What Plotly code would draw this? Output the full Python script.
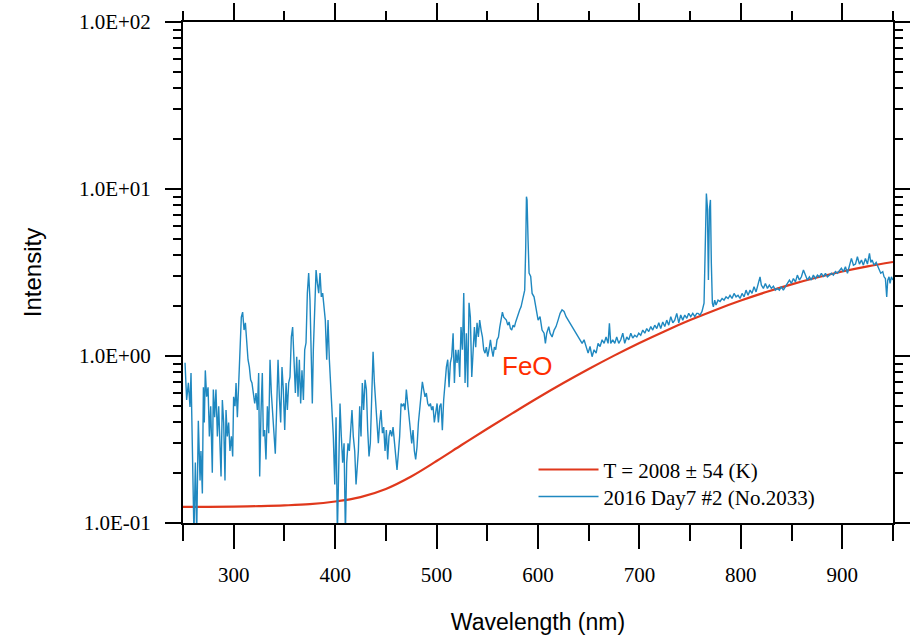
import math
import plotly.graph_objects as go

# Measured emission spectrum (wavelength in nm, intensity in arbitrary units)
spec_wl = [
    252.0, 253.6, 255.3, 256.9, 257.9, 259.5, 260.8, 262.2, 263.5, 265.1, 266.8, 267.7, 269.1, 270.1,
    271.0, 272.0, 273.3, 274.7, 276.0, 277.3, 278.9, 279.9, 281.2, 282.5, 283.9, 285.2, 286.5, 287.5,
    288.8, 290.1, 291.4, 292.4, 293.7, 295.0, 296.3, 297.7, 299.0, 299.9, 301.3, 302.3, 303.6, 304.9,
    306.2, 307.5, 308.8, 310.2, 311.5, 312.8, 314.1, 315.4, 316.7, 318.0, 319.4, 320.7, 322.0, 323.3,
    324.6, 325.6, 326.9, 328.2, 329.2, 330.5, 331.8, 333.2, 334.5, 335.8, 337.1, 338.4, 339.7, 341.0,
    342.4, 343.7, 345.0, 346.3, 347.6, 348.9, 350.3, 351.6, 352.9, 354.2, 355.5, 356.8, 358.1, 359.5,
    360.8, 362.1, 363.4, 364.7, 366.0, 367.3, 368.7, 370.0, 371.3, 372.6, 373.9, 375.2, 376.5, 377.5,
    378.5, 379.8, 381.2, 382.5, 383.8, 385.1, 386.4, 387.7, 389.0, 390.3, 391.7, 393.0, 394.3, 395.6,
    396.9, 398.2, 399.6, 400.9, 402.2, 403.5, 404.8, 406.1, 407.4, 408.8, 410.1, 411.4, 412.7, 414.0,
    415.3, 416.6, 417.9, 419.3, 420.6,
    422.9, 424.2, 425.5, 426.8, 428.1, 429.5, 430.8, 432.1, 433.4, 434.7, 436.0, 437.4, 438.7, 440.0,
    441.3, 442.6, 443.9, 445.2, 446.6, 447.9, 449.2, 450.5, 451.8, 453.1, 454.4, 455.8, 457.1, 458.4,
    459.7, 461.0, 462.3, 463.6, 465.0, 466.3, 467.6, 468.9, 470.2, 471.5, 472.9, 474.2, 475.5, 476.8,
    478.1, 479.4, 480.7, 482.1, 483.4, 484.7, 486.0, 487.3, 488.6, 489.9, 491.3, 492.6, 493.9, 495.2,
    496.5, 497.8, 499.2, 500.5, 501.8, 503.1, 504.4, 505.7, 507.0, 508.4, 509.7, 511.0, 512.3, 513.6,
    514.9, 516.3, 517.6, 518.9, 520.2, 521.5, 522.8, 524.1, 525.5, 526.8, 528.1, 529.4, 530.7, 532.0,
    533.3, 534.7, 536.0, 537.3, 538.6, 539.9, 541.2, 542.5, 543.9, 545.2, 546.5, 547.8, 549.1, 550.4,
    551.7, 553.1, 554.4, 555.7, 557.0, 558.3, 559.6, 561.0, 562.3, 563.6, 564.9, 566.2, 567.5, 568.8,
    570.2, 571.5, 572.8, 574.1, 575.4, 576.7, 578.0, 579.4, 580.7, 582.0, 583.3, 584.6,
    586.9, 587.9, 588.6, 589.2, 590.2, 591.2, 592.8, 594.2, 596.1, 598.1, 600.1, 602.0, 604.0, 606.0,
    607.3, 608.6, 610.6, 611.9, 613.9, 615.9, 617.8, 619.8, 621.8, 623.7, 625.7, 627.7, 629.7, 631.6,
    633.6, 635.6, 637.5, 639.5, 641.5, 643.5, 645.4, 647.4, 649.4, 651.3, 653.3, 655.3, 657.3, 659.2,
    661.2, 663.2, 665.2, 667.1, 669.1, 670.4, 671.7, 673.7, 675.7, 677.6, 679.6, 681.6, 683.6, 685.5,
    687.5, 689.5, 691.5, 693.4, 695.4, 697.4, 699.3, 701.3, 703.3, 705.3, 707.2, 709.2, 711.2, 713.1,
    715.1, 717.1, 719.1, 721.0, 723.0, 725.0, 726.9, 728.9, 730.9, 732.9, 734.8, 736.8, 738.8, 740.7,
    742.7, 744.7, 746.7, 748.6, 750.6, 752.6, 754.6, 756.5,
    757.8, 759.8, 761.7, 763.7, 765.0, 766.0, 767.0, 768.0, 769.0, 770.0, 770.9, 771.9, 772.9, 774.2,
    775.5, 777.5, 779.5, 781.5, 783.4, 785.4, 787.4, 789.3, 791.3, 793.3, 795.3, 797.2, 799.2, 801.2,
    803.2, 805.1, 807.1, 809.1, 811.0, 813.0, 815.0, 817.0, 818.9, 820.2, 822.2, 824.2, 826.2, 828.1,
    830.1, 832.1, 834.0, 836.0, 838.0, 840.0, 841.9, 843.9, 845.9, 847.9, 849.8, 851.8, 853.8, 855.7,
    857.7, 859.7, 861.7, 863.6, 865.6, 867.6, 869.5, 871.5, 873.5, 875.5, 877.4, 879.4, 881.4, 883.4,
    885.3, 887.3, 889.3, 891.2, 893.2, 895.2, 897.2, 899.1, 901.1, 903.1, 905.1, 907.0, 909.0, 911.0,
    913.0, 914.9, 916.9, 918.9, 920.8, 922.8, 924.8, 926.8, 928.1, 929.4, 931.4, 933.4, 935.3, 936.6,
    937.9, 939.9, 941.2, 942.5, 943.8, 944.8, 946.1, 947.1, 948.4, 949.8,
]
spec_int = [
    0.91, 0.545, 0.69, 0.495, 0.79, 0.27, 0.085, 0.23, 0.085, 0.41, 0.18, 0.27, 0.15, 0.65,
    0.40, 0.82, 0.57, 0.65, 0.33, 0.50, 0.20, 0.63, 0.43, 0.63, 0.33, 0.50, 0.27, 0.19,
    0.545, 0.40, 0.18, 0.475, 0.33, 0.40, 0.27, 0.33, 0.25, 0.57, 0.50, 0.69, 0.43, 0.69,
    1.2, 1.71, 1.83, 1.43, 1.58, 1.13, 0.95, 0.86, 0.72, 0.69, 0.60, 0.52, 0.60, 0.475,
    0.79, 0.19, 0.46, 0.79, 0.33, 0.36, 0.24, 0.50, 0.345, 0.95, 0.60, 0.46, 0.36, 0.26,
    0.50, 0.95, 0.57, 0.40, 0.86, 0.63, 0.36, 0.69, 0.475, 0.69, 0.75, 1.30, 1.49, 0.95,
    0.60, 0.99, 0.57, 0.95, 0.52, 0.82, 0.545, 1.09, 1.2, 2.38, 3.14, 2.16, 0.86, 0.52,
    1.09, 1.89, 3.27, 2.73, 2.38, 3.14, 2.26, 2.38, 1.97, 1.64, 0.95, 1.64, 0.95, 0.69,
    0.50, 0.33, 0.17, 0.43, 0.085, 0.27, 0.52, 0.33, 0.23, 0.30, 0.085, 0.23, 0.30, 0.27,
    0.40, 0.475, 0.33, 0.27, 0.17,
    0.27, 0.50, 0.33, 0.69, 0.475, 0.72, 0.63, 0.36, 0.25, 0.30, 0.50, 1.06, 0.69, 0.52,
    0.43, 0.30, 0.40, 0.475, 0.345, 0.375, 0.27, 0.36, 0.24, 0.33, 0.36, 0.33, 0.375, 0.315,
    0.25, 0.208, 0.26, 0.33, 0.52, 0.50, 0.52, 0.475, 0.63, 0.52, 0.40, 0.33, 0.30, 0.36,
    0.27, 0.24, 0.285, 0.40, 0.475, 0.57, 0.70, 0.63, 0.57, 0.60, 0.52, 0.50, 0.52, 0.475,
    0.50, 0.40, 0.46, 0.52, 0.40, 0.50, 0.52, 0.36, 0.545, 0.75, 0.86, 0.95, 0.65, 0.91,
    0.99, 1.37, 0.69, 1.09, 0.91, 1.09, 0.75, 1.49, 1.09, 2.38, 0.69, 1.37, 0.65, 2.08,
    1.71, 0.75, 1.09, 1.49, 1.13, 1.58, 1.30, 1.64, 1.43, 1.30, 1.09, 1.04, 1.13, 0.99,
    1.09, 1.25, 1.09, 0.99, 1.13, 1.09, 1.25, 1.30, 1.49, 1.71, 1.83, 1.71, 1.68, 1.64,
    1.53, 1.60, 1.46, 1.43, 1.53, 1.49, 1.60, 1.71, 1.81, 1.89, 1.97, 2.11,
    2.48, 4.5, 9.0, 8.6, 4.95, 3.14, 3.0, 2.37, 2.26, 1.89, 1.64, 1.72, 1.43, 1.37,
    1.19, 1.37, 1.50, 1.37, 1.30, 1.43, 1.50, 1.64, 1.80, 1.89, 1.85, 1.72, 1.64, 1.58,
    1.50, 1.43, 1.37, 1.30, 1.25, 1.19, 1.25, 1.14, 1.04, 1.14, 0.99, 1.09, 1.04, 1.19,
    1.14, 1.25, 1.19, 1.30, 1.19, 1.57, 1.19, 1.25, 1.19, 1.30, 1.19, 1.25, 1.37, 1.19,
    1.30, 1.25, 1.37, 1.28, 1.33, 1.30, 1.37, 1.33, 1.43, 1.37, 1.46, 1.40, 1.50, 1.43,
    1.53, 1.46, 1.58, 1.46, 1.60, 1.50, 1.64, 1.53, 1.72, 1.58, 1.64, 1.80, 1.58, 1.76,
    1.64, 1.76, 1.68, 1.80, 1.72, 1.80, 1.72, 1.80,
    1.80, 1.76, 1.85, 2.07, 4.5, 9.4, 7.8, 2.85, 7.5, 8.6, 3.59, 2.07, 1.97, 2.16,
    2.02, 2.16, 2.12, 2.21, 2.16, 2.26, 2.21, 2.31, 2.21, 2.37, 2.26, 2.31, 2.21, 2.37,
    2.26, 2.48, 2.31, 2.48, 2.37, 2.60, 2.42, 2.72, 2.98, 2.66, 2.54, 2.72, 2.54, 2.66,
    2.54, 2.62, 2.48, 2.54, 2.48, 2.60, 2.48, 2.60, 2.72, 2.85, 2.72, 2.91, 2.78, 3.05,
    2.85, 2.98, 3.27, 3.05, 2.85, 2.98, 2.85, 3.05, 2.91, 3.05, 2.98, 3.13, 2.98, 3.13,
    2.98, 3.05, 3.13, 3.05, 3.20, 3.13, 3.27, 3.35, 3.20, 3.42, 3.13, 3.50, 3.84, 3.50,
    3.55, 3.93, 3.55, 3.76, 3.50, 3.84, 3.55, 4.12, 3.63, 3.76, 3.50, 3.63, 3.42, 3.27,
    3.13, 3.20, 2.98, 2.91, 2.26, 2.85, 2.98, 2.72, 2.98, 2.85,
]

# Fitted thermal continuum
fit_wl = [250, 275, 300, 325, 350, 375, 400, 425, 450, 475, 500, 525, 550, 575, 600, 625, 650,
          675, 700, 725, 750, 775, 800, 825, 850, 875, 900, 925, 950]
fit_int = [0.125, 0.125, 0.1253, 0.1262, 0.1275, 0.1297, 0.1345, 0.1430, 0.1600, 0.1900, 0.2350,
           0.2940, 0.3670, 0.455, 0.5623, 0.6887, 0.8356, 1.005, 1.197, 1.409, 1.641, 1.888,
           2.148, 2.415, 2.685, 2.951, 3.206, 3.443, 3.656]

x_ticks = [300, 400, 500, 600, 700, 800, 900]
y_ticks = [0.1, 1, 10, 100]
y_tick_text = ["1.0E-01", "1.0E+00", "1.0E+01", "1.0E+02"]
y_minor = [m * d for d in (0.1, 1, 10) for m in range(2, 10)]

fit_name = "T = 2008 ± 54 (K)"
spec_name = "2016 Day7 #2 (No.2033)"
label_text = "FeO"
label_wl, label_int = 590, 0.87

SERIF = "Liberation Serif"
SANS = "Liberation Sans"

fig = go.Figure()
fig.add_trace(go.Scatter(x=fit_wl, y=fit_int, mode="lines", name=fit_name, legend="legend",
                         line=dict(color="#e0381c", width=2.2, shape="spline")))
fig.add_trace(go.Scatter(x=spec_wl, y=spec_int, mode="lines", name=spec_name, legend="legend2",
                         line=dict(color="#1f88c0", width=1.4)))
# carrier for the top axis
fig.add_trace(go.Scatter(x=[600], y=[1], xaxis="x2", mode="markers",
                         marker=dict(opacity=0), showlegend=False, hoverinfo="skip"))

axis_common = dict(showline=True, linecolor="black", linewidth=2, showgrid=False,
                   zeroline=False, ticks="outside", tickcolor="black", tickwidth=2,
                   automargin=False)

legend_common = dict(x=0.4937, xanchor="left", yanchor="top", bgcolor="rgba(0,0,0,0)",
                     font=dict(family=SERIF, size=21, color="black"), itemwidth=60)

fig.update_layout(
    width=910, height=635,
    margin=dict(l=183, r=17, t=22, b=112),
    paper_bgcolor="white", plot_bgcolor="white",
    showlegend=True,
    legend=dict(y=0.147, **legend_common),
    legend2=dict(y=0.093, **legend_common),
    xaxis=dict(range=[250, 950], tickvals=x_ticks, ticklen=24,
               minor=dict(dtick=50, tick0=250, ticks="outside", ticklen=16,
                          tickcolor="black", tickwidth=2, showgrid=False),
               tickfont=dict(family=SERIF, size=21, color="black"),
               ticklabelstandoff=8,
               title=dict(text="Wavelength (nm)", font=dict(family=SANS, size=23, color="black"),
                          standoff=28),
               **axis_common),
    xaxis2=dict(range=[250, 950], overlaying="x", side="top", matches="x", anchor="y",
                tickvals=x_ticks, ticklen=17, showticklabels=False,
                minor=dict(dtick=50, tick0=250, ticks="outside", ticklen=9,
                           tickcolor="black", tickwidth=2, showgrid=False),
                **axis_common),
    yaxis=dict(type="log", range=[-1, 2], tickvals=y_ticks, ticktext=y_tick_text, ticklen=16,
               mirror="ticks",
               minor=dict(tickvals=y_minor, ticks="outside", ticklen=8,
                          tickcolor="black", tickwidth=2, showgrid=False),
               tickfont=dict(family=SERIF, size=21, color="black"),
               ticklabelstandoff=10,
               title=dict(text="Intensity", font=dict(family=SANS, size=24, color="black"),
                          standoff=30),
               **axis_common),
)

# band label; annotation y on a log axis is given in log10 units
fig.add_annotation(x=label_wl, y=math.log10(label_int), xref="x", yref="y",
                   text=label_text, showarrow=False,
                   font=dict(family=SANS, size=26, color="#ff2d00"),
                   xanchor="center", yanchor="middle")

fig.write_html("out.html")
